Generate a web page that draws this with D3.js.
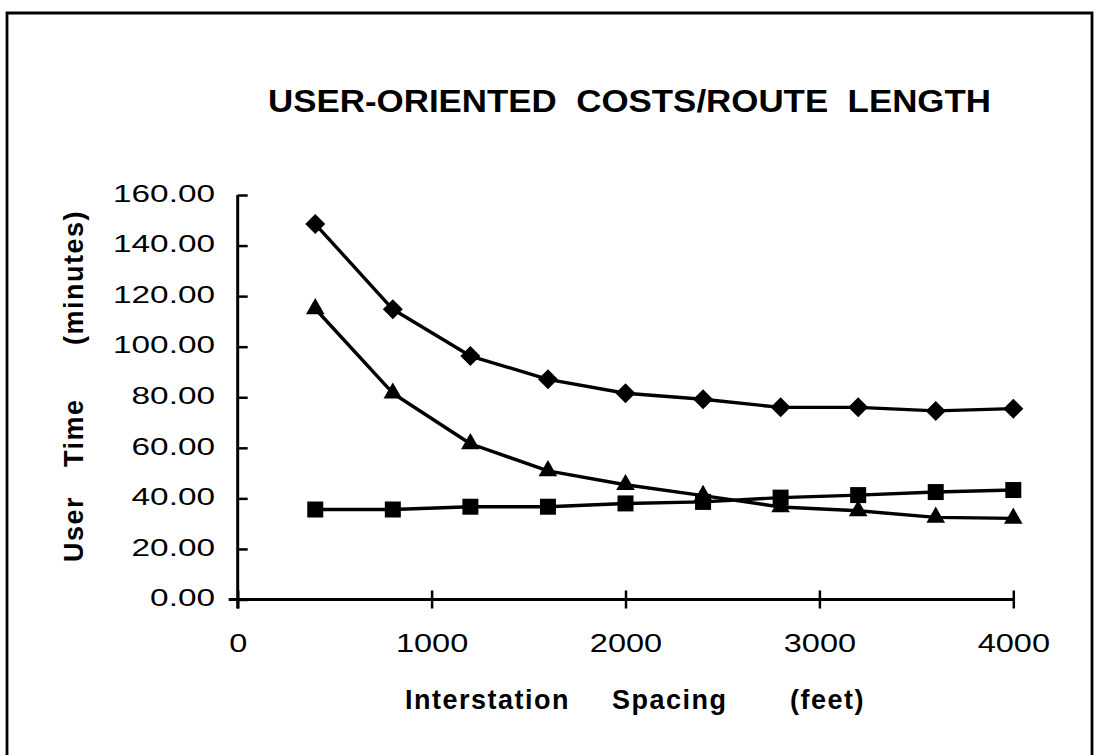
<!DOCTYPE html>
<html>
<head>
<meta charset="utf-8">
<script src="https://cdn.jsdelivr.net/npm/d3@7"></script>
<style>
  body { margin: 0; background: #fff; }
  text { font-family: "Liberation Sans", Arial, sans-serif; fill: #000; }
</style>
</head>
<body>
<svg id="chart"></svg>
<script>
// data
const spacing = [400, 800, 1200, 1600, 2000, 2400, 2800, 3200, 3600, 4000];
const totalTime = [148.5, 114.8, 96.3, 87.1, 81.6, 79.2, 76.0, 76.0, 74.6, 75.5];
const inVehicleTime = [35.6, 35.6, 36.7, 36.7, 38.0, 38.6, 40.3, 41.3, 42.5, 43.3];
const accessTime = [115.0, 81.6, 61.6, 50.9, 45.4, 41.1, 36.6, 35.1, 32.5, 32.1];
const xTicks = [0, 1000, 2000, 3000, 4000];
const yTicks = [0, 20, 40, 60, 80, 100, 120, 140, 160];

const width = 1094, height = 755;
const margin = {top: 195, right: 80, bottom: 155.5, left: 237.7};
const innerH = height - margin.top - margin.bottom;

// the old print has wide glyphs, so stretch text horizontally
function stretch(sel, factor) {
  sel.each(function() {
    const len = this.getComputedTextLength();
    d3.select(this)
      .attr('textLength', len * factor)
      .attr('lengthAdjust', 'spacingAndGlyphs');
  });
}

const svg = d3.select('#chart')
    .attr('width', width)
    .attr('height', height);

// page frame
svg.append('path')
    .attr('d', 'M7,755V13H1092V755')
    .attr('fill', 'none')
    .attr('stroke', '#000')
    .attr('stroke-width', 2.8);

const g = svg.append('g')
    .attr('transform', 'translate(' + margin.left + ',' + margin.top + ')');

const x = d3.scaleLinear().domain([0, 4000]).range([0, 1013.3 - margin.left]);
const y = d3.scaleLinear().domain([0, 160]).range([innerH, 0]);

// X axis
const xAxis = g.append('g')
    .attr('transform', 'translate(0,' + innerH + ')')
    .call(d3.axisBottom(x).tickValues(xTicks).tickSize(9).tickSizeOuter(0).tickPadding(25)
      .tickFormat(d3.format('d')));
xAxis.select('.domain').attr('d', 'M-9,0H' + x(4000)).attr('stroke-width', 3);
xAxis.selectAll('.tick line').attr('y1', -9).attr('stroke-width', 2.5);
xAxis.selectAll('text').attr('font-size', 26);
stretch(xAxis.selectAll('text'), 1.25);

// Y axis
const yAxis = g.append('g')
    .call(d3.axisLeft(y).tickValues(yTicks).tickSize(10).tickSizeOuter(0).tickPadding(12.7)
      .tickFormat(d3.format('.2f')));
yAxis.select('.domain').attr('d', 'M0,0V' + (innerH + 9)).attr('stroke-width', 3);
yAxis.selectAll('.tick line').attr('x2', 10).attr('stroke-width', 2.5);
yAxis.selectAll('text')
    .attr('font-size', 24)
    .attr('dy', '0.26em');
stretch(yAxis.selectAll('text'), 1.39);
g.selectAll('.domain, .tick line').attr('stroke', '#000');

// series
const series = [
  {values: totalTime, symbol: d3.symbolSquare, size: 200, rotate: 45},
  {values: accessTime, symbol: d3.symbolTriangle, size: 150, rotate: 0},
  {values: inVehicleTime, symbol: d3.symbolSquare, size: 256, rotate: 0}
];

const line = d3.line()
    .x(function(d) { return x(d[0]); })
    .y(function(d) { return y(d[1]); });

series.forEach(function(s) {
  const pts = spacing.map(function(v, i) { return [v, s.values[i]]; });
  g.append('path')
      .datum(pts)
      .attr('fill', 'none')
      .attr('stroke', '#000')
      .attr('stroke-width', 3.4)
      .attr('stroke-linejoin', 'round')
      .attr('d', line);
  g.selectAll(null)
      .data(pts)
      .enter()
      .append('path')
      .attr('d', d3.symbol().type(s.symbol).size(s.size))
      .attr('transform', function(d) {
        return 'translate(' + x(d[0]) + ',' + y(d[1]) + ') rotate(' + s.rotate + ')';
      })
      .attr('fill', '#000');
});

// titles
const title = svg.append('text')
    .attr('x', 268)
    .attr('y', 112)
    .attr('font-size', 32)
    .attr('font-weight', 'bold')
    .attr('xml:space', 'preserve')
    .text('USER-ORIENTED  COSTS/ROUTE  LENGTH');
title.attr('textLength', 723).attr('lengthAdjust', 'spacingAndGlyphs');

const xTitle = svg.append('text')
    .attr('y', 709)
    .attr('font-size', 27)
    .attr('font-weight', 'bold')
    .attr('letter-spacing', 1.5);
xTitle.append('tspan').attr('x', 405).text('Interstation');
xTitle.append('tspan').attr('x', 612).text('Spacing');
xTitle.append('tspan').attr('x', 790).text('(feet)');

const yTitle = svg.append('text')
    .attr('transform', 'translate(83,0) rotate(-90)')
    .attr('font-size', 27)
    .attr('font-weight', 'bold')
    .attr('letter-spacing', 1.5);
yTitle.append('tspan').attr('x', -562).text('User');
yTitle.append('tspan').attr('x', -467).text('Time');
yTitle.append('tspan').attr('x', -345).text('(minutes)');
</script>
</body>
</html>
